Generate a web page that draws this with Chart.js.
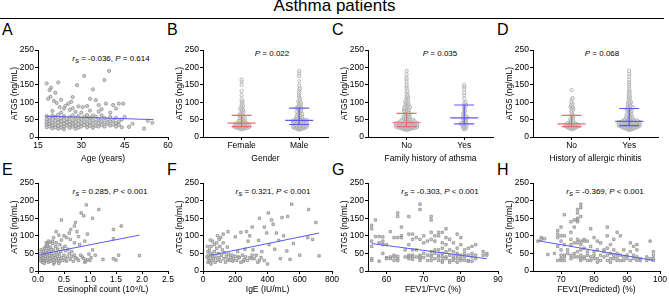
<!DOCTYPE html>
<html>
<head>
<meta charset="utf-8">
<script src="https://cdn.jsdelivr.net/npm/chart.js@4.4.1/dist/chart.umd.min.js"></script>
<style>
  body { margin: 0; width: 669px; height: 297px; overflow: hidden; background: #fff; position: relative;
         font-family: Arial, "Liberation Sans", sans-serif; color: #000; }
  #title { position: absolute; left: 0; top: -4px; width: 669px; text-align: center; font-size: 17px; line-height: 20px; }
  #rule { position: absolute; left: 0; top: 18px; width: 664px; border-top: 1.3px solid #000; }
  .lbl { position: absolute; font-size: 16px; line-height: 16px; }
  .ann { position: absolute; font-size: 8px; line-height: 10px; white-space: nowrap; transform: translateX(-50%); }
  .ann sub { font-size: 6px; vertical-align: -2px; line-height: 0; }
  canvas { position: absolute; }
</style>
</head>
<body>
<div id="title">Asthma patients</div>
<div id="rule"></div>
<div class="lbl" style="left:2px;top:21.5px">A</div>
<div class="lbl" style="left:167px;top:21.5px">B</div>
<div class="lbl" style="left:332px;top:21.5px">C</div>
<div class="lbl" style="left:497px;top:21.5px">D</div>
<div class="lbl" style="left:2px;top:161.5px">E</div>
<div class="lbl" style="left:167px;top:161.5px">F</div>
<div class="lbl" style="left:332px;top:161.5px">G</div>
<div class="lbl" style="left:497px;top:161.5px">H</div>
<div class="ann" style="left:111px;top:54px"><i>r</i><sub><i>S</i></sub> = -0.036, <i>P</i> = 0.614</div>
<div class="ann" style="left:272px;top:49px"><i>P</i> = 0.022</div>
<div class="ann" style="left:440px;top:49px"><i>P</i> = 0.035</div>
<div class="ann" style="left:602px;top:49px"><i>P</i> = 0.068</div>
<div class="ann" style="left:110px;top:187px"><i>r</i><sub><i>S</i></sub> = 0.285, <i>P</i> &lt; 0.001</div>
<div class="ann" style="left:273px;top:187px"><i>r</i><sub><i>S</i></sub> = 0.321, <i>P</i> &lt; 0.001</div>
<div class="ann" style="left:440px;top:187px"><i>r</i><sub><i>S</i></sub> = -0.303, <i>P</i> &lt; 0.001</div>
<div class="ann" style="left:605px;top:187px"><i>r</i><sub><i>S</i></sub> = -0.369, <i>P</i> &lt; 0.001</div>
<script>
// A: age vs ATG5
const pointsA = [[18,154],[19.5,142],[19,135],[21,127],[22,157],[18.5,110],[19.3,116],[20.5,104],[23,107],[21.5,98],
  [22.5,86],[24,82],[25.5,96],[26.5,101],[27,115],[28.5,149],[31,176],[34,137],[33,110],[35,106],[38,164],[39.6,190],
  [38.5,96],[41,92],[42,82],[43,96],[44.5,96],[29,88],[30.5,86],[32,89],[36,92],[24.5,90],[26,78],[28,72],[30,70],
  [33,76],[36,73],[37,80],[40,70],[23,70],[20,75],[27,83],[34,62],[45,58],[46.5,29],[47.7,38],[51.7,24],[53,47],[54.6,41],
  [42,55],[44,50],[18,60],[18,50],[18,42],[18,35],[18,28],[19,55],[19,45],[19,38],[19,30],[20,62],[20,52],[20,40],[20,33],
  [20,25],[21,58],[21,47],[21,36],[21,28],[22,64],[22,50],[22,42],[22,32],[22,24],[23,55],[23,45],[23,36],[23,27],[24,60],
  [24,48],[24,38],[24,30],[24,22],[25,52],[25,42],[25,33],[26,57],[26,45],[26,35],[26,26],[27,62],[27,48],[27,38],[27,30],
  [28,55],[28,43],[28,32],[28,24],[29,60],[29,47],[29,36],[29,27],[30,52],[30,40],[30,30],[31,58],[31,45],[31,34],[32,63],
  [32,50],[32,38],[32,28],[33,55],[33,42],[33,32],[34,48],[34,36],[34,26],[35,58],[35,44],[35,32],[36,52],[36,40],[36,30],
  [37,62],[37,46],[37,35],[38,55],[38,42],[38,30],[39,50],[39,38],[40,58],[40,45],[40,33],[41,48],[41,36],[42,40],[42,30],
  [43,45],[43,35],[44,28]];
const fitA = [[17.5,60],[55,50]];

// B-D: group values (ng/mL) and median / interquartile range
const femaleB = [165,160,150,132,120,108,104,100,96,92,88,85,82,80,78,75,72,70,68,65,63,62,60,58,56,55,53,52,50,49,48,47,46,
  45,44,43,42,41,40,40,39,39,38,37,37,36,36,35,35,34,34,33,33,32,32,31,31,30,30,30,29,29,28,28,27,27,26,26,25,25,24,23,22];
const maleB = [190,183,175,160,148,140,136,130,125,120,115,110,106,102,100,98,95,92,90,88,86,84,83,82,80,78,76,75,73,72,70,68,
  66,65,63,62,60,59,58,57,56,55,54,53,52,51,50,50,49,49,48,48,47,47,46,46,45,45,44,44,43,43,42,42,41,41,40,40,39,39,38,38,37,
  37,36,36,35,35,34,34,33,33,32,32,31,31,30,30,29,29,28,28,27,27,26,26,25,25,24,23,22,21];
const noC = [190,180,170,165,158,150,145,140,132,128,122,118,115,112,108,105,102,100,98,96,94,92,90,88,86,85,84,83,82,80,79,
  78,76,75,74,72,70,69,68,66,65,64,62,61,60,59,58,57,56,55,54,53,52,51,50,50,49,49,48,48,47,47,46,46,45,45,44,44,43,43,42,42,
  42,41,41,41,40,40,40,39,39,39,38,38,38,37,37,37,36,36,36,35,35,35,34,34,34,33,33,33,32,32,32,31,31,31,30,30,30,29,29,29,28,
  28,28,27,27,27,26,26,26,25,25,24,24,23,23,22,21,20];
const yesC = [150,145,138,128,120,110,100,97,94,92,88,85,80,76,72,68,65,62,60,58,56,55,54,52,50,48,46,44,42,40,39,38,37,36,35,
  33,32,30,28,26,24,22];
const noD = [135,112,108,100,95,92,88,86,84,82,78,75,70,66,62,60,57,55,52,50,48,46,44,42,41,40,39,38,38,37,36,36,35,35,34,33,
  33,32,32,31,31,30,30,29,29,28,28,27,26,25,24,23,22];
const yesD = [190,182,175,165,158,152,146,140,135,130,126,122,118,115,112,108,105,102,100,98,96,94,92,90,88,86,85,84,83,82,80,
  78,76,75,74,72,70,68,66,65,64,62,60,59,58,57,56,55,54,53,52,51,50,50,49,49,48,48,47,47,46,46,45,45,45,44,44,44,43,43,43,42,
  42,42,41,41,41,40,40,40,39,39,39,38,38,38,37,37,37,36,36,36,35,35,35,34,34,34,33,33,33,32,32,32,31,31,31,30,30,30,29,29,29,
  28,28,27,27,26,26,25,25,24,24,23,22,21,20];
const medianB = [40,48], q1B = [30,36], q3B = [62,83];
const medianC = [41,55], q1C = [30,38], q3C = [68,92];
const medianD = [38,45], q1D = [30,33], q3D = [62,82];

// E: eosinophil count vs ATG5
const pointsE = [[0.45,145],[0.72,138],[0.7,128],[0.83,165],[0.93,188],[1.17,175],[1.05,150],[0.88,157],[0.63,118],[0.75,112],
  [0.6,108],[0.5,100],[0.55,95],[0.35,112],[0.4,102],[0.3,95],[0.45,88],[0.62,90],[0.78,98],[0.95,105],[0.9,85],[0.8,75],
  [0.7,80],[1.45,118],[1.6,128],[1.45,92],[1.55,45],[1.95,44],[1.45,35],[1.5,31],[1.25,33],[1.0,30],[0.9,25],[0.95,32],
  [1.05,60],[0.98,48],[0.85,40],[0.75,35],[0.7,45],[0.65,55],[0.58,62],[0.52,70],[0.42,75],[0.35,80],[0.28,85],[0.22,82],
  [0.18,78],[0.15,70],[0.2,65],[0.25,60],[0.05,50],[0.05,40],[0.05,30],[0.06,60],[0.07,35],[0.08,45],[0.08,25],[0.1,55],
  [0.1,38],[0.1,30],[0.12,48],[0.12,65],[0.13,28],[0.14,42],[0.15,35],[0.15,58],[0.16,80],[0.17,50],[0.18,30],[0.18,72],
  [0.19,40],[0.2,85],[0.2,25],[0.21,55],[0.22,45],[0.23,35],[0.24,68],[0.25,28],[0.26,50],[0.27,40],[0.28,78],[0.29,32],
  [0.3,60],[0.31,45],[0.32,25],[0.33,38],[0.34,70],[0.35,52],[0.36,30],[0.37,42],[0.38,62],[0.4,35],[0.41,48],[0.42,28],
  [0.44,55],[0.45,38],[0.47,65],[0.48,30],[0.5,45],[0.52,35],[0.53,58],[0.55,28],[0.57,40],[0.6,50],[0.62,33],[0.65,42],
  [0.68,28],[0.72,38],[0.78,30],[0.82,45],[0.88,35],[0.92,28],[1.02,38],[1.1,45],[0.3,20],[0.12,22],[0.4,22]];
const fitE = [[0.05,47],[1.95,102]];

// F: IgE vs ATG5
const pointsF = [[550,190],[655,175],[405,165],[350,150],[425,145],[525,155],[490,152],[700,138],[435,133],[380,125],[305,125],
  [270,112],[290,100],[395,108],[455,108],[500,100],[650,95],[680,90],[200,97],[235,110],[155,112],[280,85],[345,87],[470,87],
  [560,78],[410,75],[445,62],[520,57],[600,45],[720,43],[480,35],[540,33],[400,20],[350,30],[300,35],[250,28],[220,40],
  [330,45],[365,55],[260,62],[310,60],[30,55],[35,45],[35,35],[40,60],[40,28],[45,40],[50,50],[50,70],[55,30],[60,45],
  [60,85],[65,35],[70,55],[70,75],[75,25],[80,40],[85,65],[85,80],[90,30],[95,50],[100,90],[100,38],[105,70],[110,28],
  [115,45],[120,60],[125,80],[130,35],[135,52],[140,25],[145,42],[150,68],[155,32],[160,48],[165,30],[170,38],[180,45],
  [185,28],[190,35],[200,42],[210,30],[215,55],[225,38],[235,25],[245,45],[255,33],[265,40],[275,30],[290,38],[305,45],
  [320,35],[340,25],[360,38],[380,30],[30,25],[50,20],[25,40],[28,70],[45,88],[90,100],[110,95],[125,105]];
const fitF = [[50,45],[720,108]];

// G: FEV1/FVC (%) columns -> ATG5 values
const colsG = [[56,[130,120,85,70,35,30]],[57,[145,98]],[58,[98,80,28]],[59,[97,85,75,50]],[60,[75,38,35]],[61,[112,40,35]],
  [62,[95,45,40,30]],[63,[165,155,95,42,35,30]],[64,[125,100,95]],[65,[60,40]],[66,[155,105,75,45,40,35]],
  [67,[105,90,60,45,40,33]],[68,[95,60,40]],[69,[190,175,90,45,40,35,30]],[70,[100,80,50,38]],[71,[85,45,30]],
  [72,[155,145,110,90,55,45,40,30]],[73,[100,85,60,50,35]],[74,[110,100,60,45,40,30]],[75,[110,80,65,50,40,30,25]],
  [76,[120,95,75,55,40,35]],[77,[90,60,45,30,25]],[78,[80,55,40,35,30]],[79,[105,65,50,45,35,25]],[80,[95,75,45,35,30]],
  [81,[60,50,40,30]],[82,[65,45,30,28]],[83,[70,50,40,28]],[84,[75,45,35]],[86,[55,45]],[87,[50,45]]];
const fitG = [[56,78],[87,35]];

// H: FEV1 (predicted, %) columns -> ATG5 values
const colsH = [[63,[85]],[64,[95,90]],[65,[92]],[66,[47]],[68,[50]],[69,[115,105,95,70,30]],[70,[125,100,85,60,45,35,30]],
  [71,[160,100,75,45,40,30]],[72,[60,50]],[73,[140,110,90,75,45,35]],[74,[145,125,80,50,40]],
  [75,[175,165,150,145,140,90,80,55,40]],[76,[190,180,155,85,75,60,45,35,30]],[77,[90,85,65,40,35]],[78,[85,55,45,30]],
  [79,[120,70,40,30]],[80,[95,55,45,35]],[81,[85,60,35,25]],[82,[80,45,30]],[83,[60,55,40]],[84,[125,100,65,45,30]],
  [85,[75,50,35,25]],[86,[90,60,45,35]],[87,[110,50,40,30]],[88,[100,45,30]],[89,[60,40,30]],[90,[45,35]],[91,[80,55,30]],
  [92,[70,45,35]],[93,[75,60,40,30]],[94,[35,30]],[96,[40,30]],[97,[85,35]],[98,[55,45,35,30]]];
const fitH = [[63,86],[98,30]];

const FONT = { family: 'Arial, "Liberation Sans", sans-serif', size: 8.5 };
const RED = '#ef6a6a', BLUE = '#5a5af2';
const ROWS = [{ top: 50, h: 87, xH: 32, titlePad: 5 }, { top: 183, h: 88, xH: 30, titlePad: 6 }];
const GROUP_MIN = 0.33, GROUP_MAX = 2.5;

const toXY = pts => pts.map(([x, y]) => ({ x, y }));
const fromCols = cols => cols.flatMap(([x, vals]) => vals.map(y => ({ x, y })));

// spread group values sideways so circles don't sit on top of each other
function swarm(values, group, pxPerX, pxPerY, d) {
  const placed = [];
  return values.slice().sort((a, b) => a - b).map(v => {
    const py = v * pxPerY;
    let k = 0, off = 0;
    for (;;) {
      off = (k === 0 ? 0 : (k % 2 ? 1 : -1) * Math.ceil(k / 2)) * 0.5;
      if (placed.every(p => (p.x - off) ** 2 + (p.y - py) ** 2 >= d * d)) break;
      k++;
    }
    placed.push({ x: off, y: py });
    return { x: group + off / pxPerX, y: v };
  });
}

function scatterSet(data, style) {
  return {
    data, pointStyle: style, pointRadius: style === 'rect' ? 1.7 : 1.6,
    borderColor: '#8e8e8e', backgroundColor: 'rgba(190,190,190,0.7)', borderWidth: 0.8, order: 2
  };
}
function fitSet(pts) {
  return { type: 'line', data: toXY(pts), borderColor: BLUE, borderWidth: 1, pointRadius: 0, order: 1 };
}

function summaryPlugin(med, q1, q3) {
  return {
    id: 'summary',
    afterDatasetsDraw(chart) {
      const { ctx, scales: { x, y } } = chart;
      [RED, BLUE].forEach((col, i) => {
        const cx = x.getPixelForValue(i + 1);
        const ym = y.getPixelForValue(med[i]), ya = y.getPixelForValue(q1[i]), yb = y.getPixelForValue(q3[i]);
        ctx.save();
        ctx.strokeStyle = col;
        ctx.lineWidth = 1.2;
        ctx.beginPath();
        ctx.moveTo(cx - 14, ym); ctx.lineTo(cx + 14, ym);
        ctx.moveTo(cx, ya); ctx.lineTo(cx, yb);
        ctx.moveTo(cx - 10, ya); ctx.lineTo(cx + 10, ya);
        ctx.moveTo(cx - 10, yb); ctx.lineTo(cx + 10, yb);
        ctx.stroke();
        ctx.restore();
      });
    }
  };
}

function panel(left, row, w, xScale, xTitle, datasets, plugins = []) {
  const r = ROWS[row];
  const cw = 38 + w + 10, ch = 6 + r.h + r.xH;
  const canvas = document.createElement('canvas');
  canvas.width = cw; canvas.height = ch;
  canvas.style.left = (left - 38) + 'px';
  canvas.style.top = (r.top - 6) + 'px';
  canvas.style.width = cw + 'px'; canvas.style.height = ch + 'px';
  document.body.appendChild(canvas);

  const axisCommon = {
    border: { display: true, color: '#000', width: 1 },
    grid: { display: true, drawOnChartArea: false, drawTicks: true, tickLength: 3, color: '#000', lineWidth: 1 },
  };
  return new Chart(canvas, {
    type: 'scatter',
    data: { datasets },
    options: {
      responsive: false, animation: false, events: [],
      layout: { padding: { left: 0, top: 6, right: 10, bottom: 0 } },
      plugins: { legend: { display: false }, tooltip: { enabled: false } },
      scales: {
        x: Object.assign({
          type: 'linear',
          afterFit(s) { s.height = r.xH; },
          title: { display: true, text: xTitle, color: '#000', font: FONT, padding: { top: 0, bottom: r.titlePad } },
        }, axisCommon, xScale, {
          ticks: Object.assign({ color: '#000', font: FONT, padding: 1, maxRotation: 0, autoSkip: false }, xScale.ticks || {})
        }),
        y: Object.assign({
          min: 0, max: 250,
          afterFit(s) { s.width = 38; },
          ticks: { stepSize: 50, color: '#000', font: FONT, padding: 1 },
          title: { display: true, text: 'ATG5 (ng/mL)', color: '#000', font: FONT, padding: { top: 10, bottom: 0 } },
        }, axisCommon),
      }
    },
    plugins
  });
}

function groupScale(names) {
  return {
    min: GROUP_MIN, max: GROUP_MAX,
    afterBuildTicks(s) { s.ticks = [{ value: 1 }, { value: 2 }]; },
    ticks: { callback: v => names[v - 1] }
  };
}
function fixedTicks(min, max, values, fmt) {
  return {
    min, max,
    afterBuildTicks(s) { s.ticks = values.map(value => ({ value })); },
    ticks: fmt ? { callback: fmt } : {}
  };
}

function swarmPanel(left, names, title, a, b, med, q1, q3) {
  const pxX = 125 / (GROUP_MAX - GROUP_MIN), pxY = 87 / 250;
  const data = swarm(a, 1, pxX, pxY, 1.5).concat(swarm(b, 2, pxX, pxY, 1.5));
  const set = {
    data, pointStyle: 'circle', pointRadius: 1.6, borderColor: '#a3a3a3',
    backgroundColor: 'rgba(255,255,255,0.6)', borderWidth: 0.8
  };
  panel(left, 0, 125, groupScale(names), title, [set], [summaryPlugin(med, q1, q3)]);
}

Chart.defaults.font.family = FONT.family;

panel(38, 0, 130, fixedTicks(15, 60, [15, 30, 45, 60]), 'Age (years)',
  [scatterSet(toXY(pointsA), 'circle'), fitSet(fitA)]);
swarmPanel(203, ['Female', 'Male'], 'Gender', femaleB, maleB, medianB, q1B, q3B);
swarmPanel(368, ['No', 'Yes'], 'Family history of athsma', noC, yesC, medianC, q1C, q3C);
swarmPanel(533, ['No', 'Yes'], 'History of allergic rhinitis', noD, yesD, medianD, q1D, q3D);

panel(38, 1, 130, fixedTicks(0, 2.5, [0, 0.5, 1, 1.5, 2, 2.5], v => v.toFixed(1)), 'Eosinophil count (10\u2079/L)',
  [scatterSet(toXY(pointsE), 'rect'), fitSet(fitE)]);
panel(203, 1, 129, fixedTicks(0, 800, [0, 200, 400, 600, 800]), 'IgE (IU/mL)',
  [scatterSet(toXY(pointsF), 'rect'), fitSet(fitF)]);
panel(368, 1, 130, fixedTicks(55, 90, [60, 70, 80, 90]), 'FEV1/FVC (%)',
  [scatterSet(fromCols(colsG), 'rect'), fitSet(fitG)]);
panel(533, 1, 127, fixedTicks(61.5, 100, [70, 80, 90, 100]), 'FEV1(Predicted) (%)',
  [scatterSet(fromCols(colsH), 'rect'), fitSet(fitH)]);
</script>
</body>
</html>
